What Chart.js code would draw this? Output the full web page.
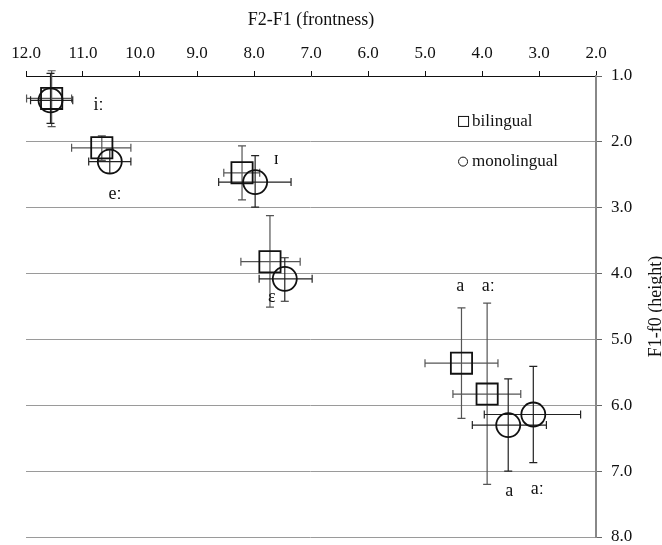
<!DOCTYPE html>
<html>
<head>
<meta charset="utf-8">
<script src="https://cdn.jsdelivr.net/npm/chart.js@4/dist/chart.umd.min.js"></script>
<style>
  html, body { margin: 0; padding: 0; background: #fff; }
  canvas { display: block; }
</style>
</head>
<body>
<canvas id="myChart" width="662" height="545"></canvas>
<script>
//Vowel categories (same order in every array).
const vowels = ['iː', 'eː', 'ɪ', 'ɛ', 'a', 'aː'];

//Bilingual speakers: means and error bar ends.
const biFront   = [11.55, 10.67, 8.21, 7.72, 4.36, 3.91];
const biHeight  = [1.34, 2.09, 2.47, 3.82, 5.36, 5.83];
const biFrontLo = [11.99, 11.20, 8.53, 8.23, 5.00, 4.51];
const biFrontHi = [11.20, 10.16, 7.90, 7.19, 3.72, 3.32];
const biHeightLo = [0.92, 1.91, 2.06, 3.12, 4.52, 4.45];
const biHeightHi = [1.77, 2.28, 2.88, 4.51, 6.20, 7.20];

//Monolingual speakers.
const monoFront   = [11.57, 10.53, 7.98, 7.46, 3.54, 3.10];
const monoHeight  = [1.37, 2.30, 2.61, 4.08, 6.30, 6.14];
const monoFrontLo = [11.92, 10.90, 8.62, 7.91, 4.17, 3.96];
const monoFrontHi = [11.18, 10.16, 7.35, 6.98, 2.87, 2.27];
const monoHeightLo = [0.96, 2.11, 2.21, 3.76, 5.60, 5.41];
const monoHeightHi = [1.72, 2.48, 2.99, 4.42, 7.00, 6.87];

//Vowel labels written on the plot (text, frontness, height).
const vowelLabels = [
    ['iː', 10.73, 1.45],
    ['eː', 10.44, 2.80],
    ['ɪ', 7.61, 2.26],
    ['ɛ', 7.69, 4.36],
    ['a', 4.38, 4.20],
    ['aː', 3.89, 4.20],
    ['a', 3.52, 7.31],
    ['aː', 3.03, 7.28]
];

const xTitle = 'F2-F1 (frontness)';
const yTitle = 'F1-f0 (height)';
const serif = "'Liberation Serif', 'Times New Roman', serif";


function toPoints(xs, ys) {
    return xs.map((x, i) => ({ x: x, y: ys[i] }));
}


//Error bars drawn under the markers.
const errorBars = {
    id: 'errorBars',
    beforeDatasetsDraw(chart) {
        const ctx = chart.ctx;
        const xs = chart.scales.x, ys = chart.scales.y;
        const sets = [
            [biFront, biHeight, biFrontLo, biFrontHi, biHeightLo, biHeightHi, '#555'],
            [monoFront, monoHeight, monoFrontLo, monoFrontHi, monoHeightLo, monoHeightHi, '#222']
        ];
        const cap = 4;
        ctx.save();
        ctx.lineWidth = 1.2;
        sets.forEach(s => {
            ctx.strokeStyle = s[6];
            for (let i = 0; i < s[0].length; i++) {
                const px = xs.getPixelForValue(s[0][i]);
                const py = ys.getPixelForValue(s[1][i]);
                const x1 = xs.getPixelForValue(s[2][i]);
                const x2 = xs.getPixelForValue(s[3][i]);
                const y1 = ys.getPixelForValue(s[4][i]);
                const y2 = ys.getPixelForValue(s[5][i]);
                ctx.beginPath();
                ctx.moveTo(x1, py); ctx.lineTo(x2, py);
                ctx.moveTo(x1, py - cap); ctx.lineTo(x1, py + cap);
                ctx.moveTo(x2, py - cap); ctx.lineTo(x2, py + cap);
                ctx.moveTo(px, y1); ctx.lineTo(px, y2);
                ctx.moveTo(px - cap, y1); ctx.lineTo(px + cap, y1);
                ctx.moveTo(px - cap, y2); ctx.lineTo(px + cap, y2);
                ctx.stroke();
            }
        });
        ctx.restore();
    }
};


//Vowel labels, legend box and the rotated y title.
const extras = {
    id: 'extras',
    afterDraw(chart) {
        const ctx = chart.ctx;
        const xs = chart.scales.x, ys = chart.scales.y;
        ctx.save();
        ctx.fillStyle = '#111';
        ctx.font = '18px ' + serif;
        ctx.textAlign = 'center';
        ctx.textBaseline = 'middle';
        vowelLabels.forEach(l => {
            ctx.fillText(l[0], xs.getPixelForValue(l[1]), ys.getPixelForValue(l[2]));
        });

        //legend
        const lx = xs.getPixelForValue(4.42);
        const ly1 = ys.getPixelForValue(1.69);
        const ly2 = ys.getPixelForValue(2.30);
        ctx.strokeStyle = '#111';
        ctx.lineWidth = 1;
        ctx.strokeRect(lx + 0.5, ly1 - 5, 10, 10);
        ctx.beginPath();
        ctx.arc(lx + 5, ly2, 4.5, 0, Math.PI * 2);
        ctx.stroke();
        ctx.font = '17px ' + serif;
        ctx.textAlign = 'left';
        ctx.fillText('bilingual', lx + 14, ly1);
        ctx.fillText('monolingual', lx + 14, ly2);

        //y title, reading bottom to top
        ctx.translate(661, (chart.chartArea.top + chart.chartArea.bottom) / 2);
        ctx.rotate(-Math.PI / 2);
        ctx.font = '18px ' + serif;
        ctx.textAlign = 'center';
        ctx.textBaseline = 'alphabetic';
        ctx.fillText(yTitle, 0, 0);
        ctx.restore();
    }
};


const ctx = document.getElementById('myChart').getContext('2d');
const chart = new Chart(ctx, {
    type: 'scatter',
    data: {
        datasets: [{
            label: 'bilingual',
            data: toPoints(biFront, biHeight),
            pointStyle: 'rect',
            pointRadius: 15,
            borderColor: '#111',
            backgroundColor: 'rgba(0,0,0,0)',
            borderWidth: 1.8
        }, {
            label: 'monolingual',
            data: toPoints(monoFront, monoHeight),
            pointStyle: 'circle',
            pointRadius: 12,
            borderColor: '#111',
            backgroundColor: 'rgba(0,0,0,0)',
            borderWidth: 1.8
        }]
    },
    options: {
        responsive: false,
        animation: false,
        devicePixelRatio: 1,
        layout: { autoPadding: false, padding: { left: 26, right: 0, top: 0, bottom: 8 } },
        plugins: {
            legend: { display: false },
            tooltip: { enabled: false }
        },
        scales: {
            x: {
                type: 'linear',
                position: 'top',
                reverse: true,
                min: 2,
                max: 12,
                ticks: {
                    stepSize: 1,
                    maxRotation: 0,
                    padding: 7,
                    color: '#111',
                    font: { family: serif, size: 17 },
                    callback: v => v.toFixed(1)
                },
                grid: { drawOnChartArea: false, drawTicks: true, tickLength: 5, color: '#111' },
                border: { display: true, color: '#111', width: 1 },
                title: {
                    display: true,
                    text: xTitle,
                    color: '#111',
                    font: { family: serif, size: 18 },
                    padding: { top: 9, bottom: 0 }
                },
                afterFit: s => { s.height = 76; s.paddingLeft = 0; s.paddingRight = 0; }
            },
            y: {
                type: 'linear',
                position: 'right',
                reverse: true,
                min: 1,
                max: 8,
                ticks: {
                    stepSize: 1,
                    padding: 9,
                    color: '#111',
                    font: { family: serif, size: 17 },
                    callback: v => v.toFixed(1)
                },
                grid: {
                    color: c => (c.tick && c.tick.value === 1) ? 'rgba(0,0,0,0)' : '#9a9a9a',
                    tickColor: '#666',
                    tickLength: 6,
                    lineWidth: 1
                },
                border: { display: true, color: '#888', width: 2 },
                afterFit: s => { s.width = 66; s.paddingTop = 0; s.paddingBottom = 0; }
            }
        }
    },
    plugins: [errorBars, extras]
});
</script>
</body>
</html>
